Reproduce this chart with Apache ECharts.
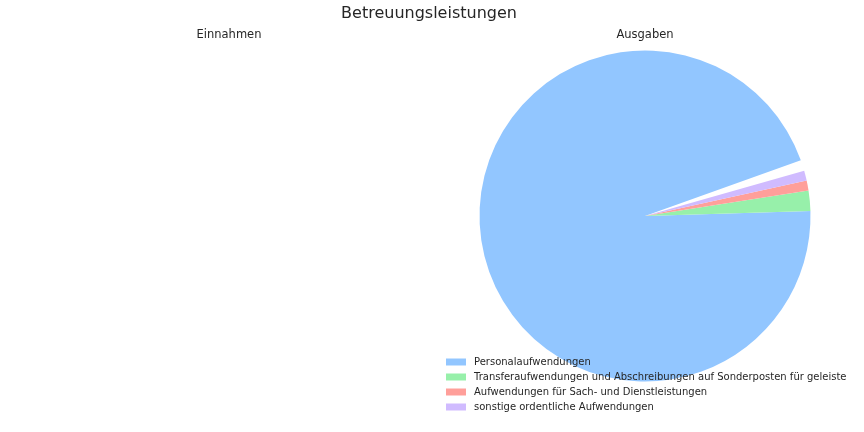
<!DOCTYPE html>
<html>
<head>
<meta charset="utf-8">
<script src="https://cdn.jsdelivr.net/npm/echarts@6/dist/echarts.min.js"></script>
<style>html,body{margin:0;padding:0;background:#fff;}#chart{width:864px;height:432px;}</style>
</head>
<body>
<div id="chart"></div>
<script>
const chartTitle = 'Betreuungsleistungen';
const subplotTitles = ['Einnahmen', 'Ausgaben'];
const categories = [
  'Personalaufwendungen',
  'Transferaufwendungen und Abschreibungen auf Sonderposten für geleiste',
  'Aufwendungen für Sach- und Dienstleistungen',
  'sonstige ordentliche Aufwendungen'
];
// fractions of the total (they sum to less than 1, leaving an empty wedge)
const ausgabenValues = [0.950, 0.020, 0.0097, 0.0097];
const colors = ['#92C6FF', '#97F0AA', '#FF9F9A', '#D0BBFF'];

const sum = ausgabenValues.reduce((a, b) => a + b, 0);
const pieData = categories.map((c, i) => ({ name: c, value: ausgabenValues[i], itemStyle: { color: colors[i] } }));
pieData.push({ name: '__rest', value: Math.max(0, 1 - sum), itemStyle: { color: 'rgba(0,0,0,0)' }, emphasis: { disabled: true }, tooltip: { show: false } });

const font = 'DejaVu Sans';
const chart = echarts.init(document.getElementById('chart'), null, { renderer: 'canvas' });
chart.setOption({
  animation: false,
  backgroundColor: '#fff',
  title: [
    { text: chartTitle, left: 429, top: 6, padding: 0, textAlign: 'center', textStyle: { fontFamily: font, fontSize: 16, fontWeight: 'normal', color: '#262626' } },
    { text: subplotTitles[0], left: 229, top: 29, padding: 0, textAlign: 'center', textStyle: { fontFamily: font, fontSize: 11.5, fontWeight: 'normal', color: '#262626' } },
    { text: subplotTitles[1], left: 645, top: 29, padding: 0, textAlign: 'center', textStyle: { fontFamily: font, fontSize: 11.5, fontWeight: 'normal', color: '#262626' } }
  ],
  legend: {
    data: categories,
    orient: 'vertical',
    left: 446,
    top: 355,
    itemWidth: 20,
    itemHeight: 7,
    itemGap: 1,
    icon: 'rect',
    padding: 0,
    textStyle: { fontFamily: font, fontSize: 10, color: '#262626', lineHeight: 14, padding: [0, 0, 0, 3] },
    selectedMode: false
  },
  series: [{
    type: 'pie',
    center: [645, 216],
    radius: 165.5,
    startAngle: 19.7,
    clockwise: false,
    label: { show: false },
    labelLine: { show: false },
    itemStyle: { borderWidth: 0 },
    data: pieData
  }]
});
</script>
</body>
</html>
